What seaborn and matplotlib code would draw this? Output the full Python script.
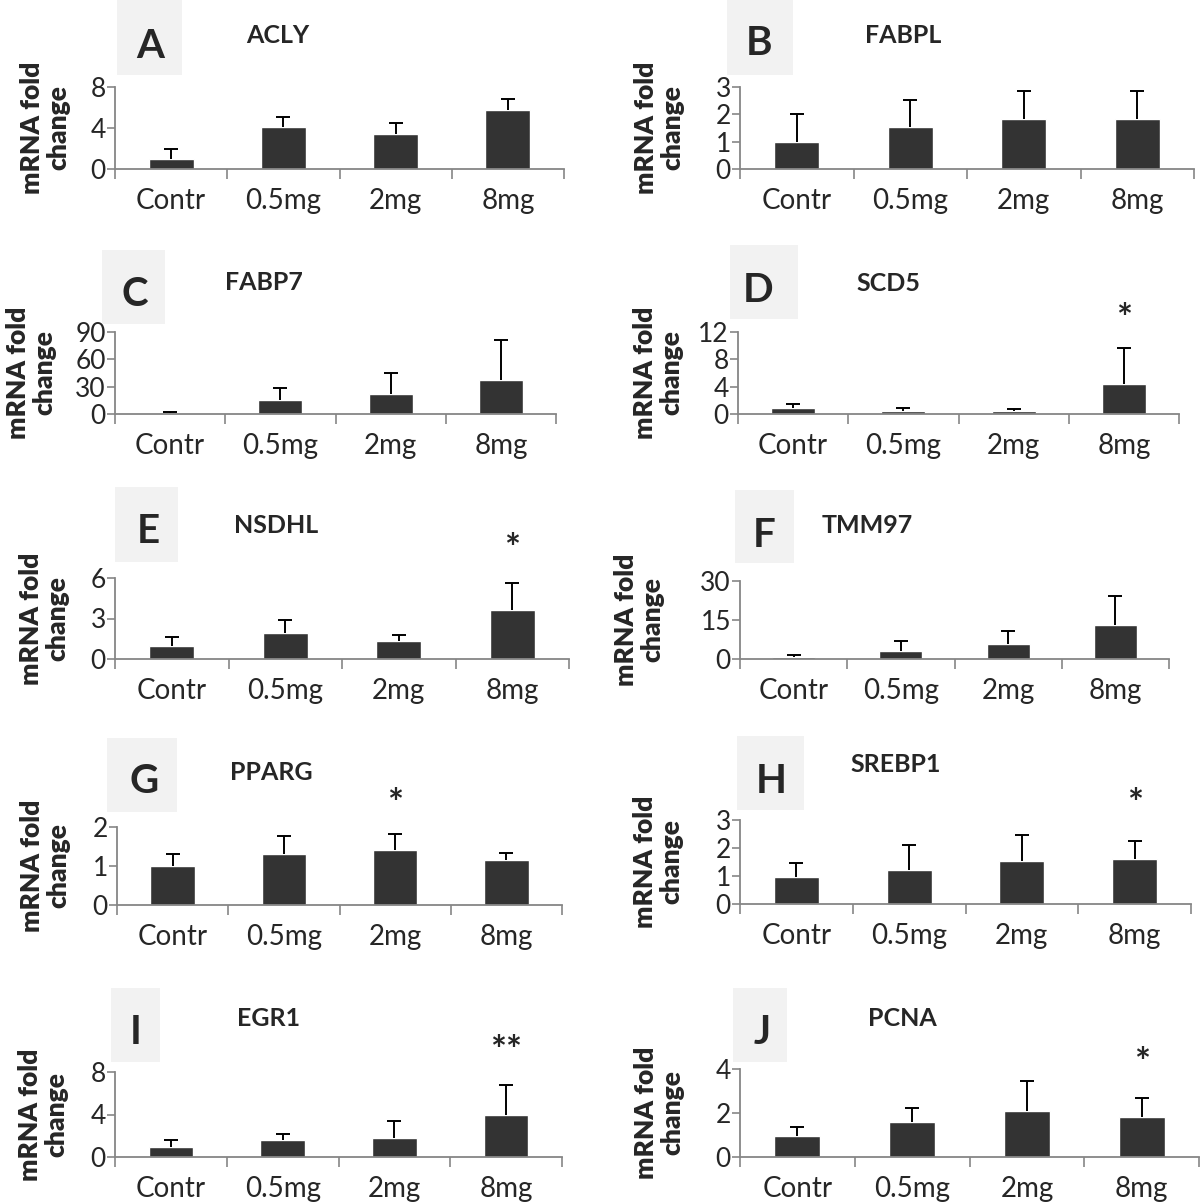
import numpy as np
import matplotlib
matplotlib.use('Agg')
import matplotlib.pyplot as plt
from matplotlib.patches import Rectangle
import seaborn as sns

doses = ['Contr', '0.5mg', '2mg', '8mg']
letters = ['A', 'B', 'C', 'D', 'E', 'F', 'G', 'H', 'I', 'J']
genes = ['ACLY', 'FABPL', 'FABP7', 'SCD5', 'NSDHL', 'TMM97', 'PPARG', 'SREBP1', 'EGR1', 'PCNA']

# mean fold change and upper error per gene
acly = [1.0, 4.1, 3.45, 5.8]
acly_err = [1.0, 1.0, 1.0, 1.05]
fabpl = [1.0, 1.54, 1.82, 1.82]
fabpl_err = [1.0, 1.0, 1.02, 1.02]
fabp7 = [1.0, 15.1, 22.5, 37.6]
fabp7_err = [1.2, 13.0, 23.0, 43.6]
scd5 = [0.93, 0.49, 0.39, 4.43]
scd5_err = [0.55, 0.44, 0.4, 5.2]
nsdhl = [0.96, 1.89, 1.3, 3.61]
nsdhl_err = [0.7, 1.0, 0.45, 2.0]
tmm97 = [0.65, 3.05, 5.7, 13.1]
tmm97_err = [1.0, 3.85, 5.0, 11.3]
pparg = [0.99, 1.32, 1.40, 1.16]
pparg_err = [0.33, 0.46, 0.41, 0.17]
srebp1 = [0.98, 1.22, 1.53, 1.61]
srebp1_err = [0.5, 0.9, 0.94, 0.63]
egr1 = [0.95, 1.58, 1.8, 3.96]
egr1_err = [0.63, 0.62, 1.55, 2.81]
pcna = [0.97, 1.57, 2.11, 1.83]
pcna_err = [0.4, 0.68, 1.34, 0.86]

values = [acly, fabpl, fabp7, scd5, nsdhl, tmm97, pparg, srebp1, egr1, pcna]
errors = [acly_err, fabpl_err, fabp7_err, scd5_err, nsdhl_err, tmm97_err,
          pparg_err, srebp1_err, egr1_err, pcna_err]
yticks = [[0, 4, 8], [0, 1, 2, 3], [0, 30, 60, 90], [0, 4, 8, 12], [0, 3, 6],
          [0, 15, 30], [0, 1, 2], [0, 1, 2, 3], [0, 4, 8], [0, 2, 4]]
# (category index, mark) or None
stars = [None, None, None, (3, '*'), (3, '*'), None, (2, '*'), (3, '*'), (3, '**'), (3, '*')]

# layout in image pixels (from top): axes x0, x1, ytop, ybot / ylabel x / box / letter / title / star y
W, H = 1200, 1204
layout = [
    dict(ax=(115, 564, 87, 169), ylab=45, box=(117, 182, 0, 75), let=(150, 58), tit=(246, 43), star=None),
    dict(ax=(740, 1194, 87, 169), ylab=659, box=(727, 793, 0, 75), let=(759, 55), tit=(865, 43), star=None),
    dict(ax=(115, 556, 332, 414), ylab=31, box=(102, 165, 250, 324), let=(135, 306), tit=(225, 290), star=None),
    dict(ax=(738, 1179, 332, 414), ylab=658, box=(730, 798, 245, 319), let=(758, 302), tit=(856, 291), star=312),
    dict(ax=(115, 569, 578, 659), ylab=44, box=(115, 178, 487, 562), let=(148, 543), tit=(234, 533), star=542),
    dict(ax=(740, 1169, 581, 659), ylab=639, box=(735, 794, 490, 563), let=(764, 547), tit=(822, 533), star=None),
    dict(ax=(117, 562, 827, 905), ylab=45, box=(107, 177, 738, 812), let=(144, 793), tit=(230, 780), star=797),
    dict(ax=(740, 1191, 820, 904), ylab=658, box=(737, 804, 736, 810), let=(771, 793), tit=(850, 772), star=797),
    dict(ax=(115, 562, 1072, 1157), ylab=43, box=(111, 160, 988, 1062), let=(136, 1044), tit=(237, 1026), star=1044),
    dict(ax=(740, 1199, 1069, 1157), ylab=659, box=(733, 787, 988, 1062), let=(762, 1044), tit=(868, 1026), star=1056),
]

sns.set_style('ticks')
plt.rcParams['font.family'] = ['Lato', 'DejaVu Sans']

fig = plt.figure(figsize=(12, 12.04), dpi=100)
axis_grey = '#868686'

for i in range(10):
    L = layout[i]
    x0, x1, yt, yb = L['ax']
    ax = fig.add_axes([x0 / W, 1 - yb / H, (x1 - x0) / W, (yb - yt) / H])
    ax.patch.set_alpha(0)
    sns.barplot(x=doses, y=values[i], color='#333333', saturation=1, width=0.4,
                errorbar=None, ax=ax)
    eb = ax.errorbar(range(4), values[i], yerr=[np.zeros(4), errors[i]], fmt='none',
                     ecolor='black', elinewidth=1.4, capsize=4.9, capthick=1.4)
    eb[1][0].set_visible(False)  # only the upper cap
    ax.set_xlim(-0.5, 3.5)
    ax.set_ylim(0, yticks[i][-1])
    ax.set_yticks(yticks[i])
    ax.set_xticks(range(4))
    ax.set_xticklabels(doses)
    ax.set_xticks(np.arange(-0.5, 4, 1), minor=True)
    ax.set_xlabel('')
    ax.set_ylabel('')
    ax.tick_params(axis='x', which='major', length=0, pad=14, labelsize=20)
    ax.tick_params(axis='x', which='minor', length=7, width=1.2, color=axis_grey, direction='out')
    ax.tick_params(axis='y', length=5.5, width=1.2, color=axis_grey, pad=1, labelsize=19)
    sns.despine(ax=ax)
    for s in ['left', 'bottom']:
        ax.spines[s].set_color(axis_grey)
        ax.spines[s].set_linewidth(1.3)

    # ylabel
    fig.text(L['ylab'] / W, 1 - (yt + yb) / 2 / H, 'mRNA fold\nchange', rotation=90,
             ha='center', va='center', multialignment='center',
             fontsize=19, fontweight='heavy', linespacing=1.1)
    # letter box
    bx0, bx1, by0, by1 = L['box']
    fig.patches.append(Rectangle((bx0 / W, 1 - by1 / H), (bx1 - bx0) / W, (by1 - by0) / H,
                                 transform=fig.transFigure, facecolor='#f2f2f2',
                                 edgecolor='none', zorder=0))
    fig.text(L['let'][0] / W, 1 - L['let'][1] / H, letters[i], ha='center', va='baseline',
             fontsize=29, fontweight='bold')
    fig.text(L['tit'][0] / W, 1 - L['tit'][1] / H, genes[i], ha='left', va='baseline',
             fontsize=18, fontweight='bold')
    if stars[i] is not None:
        idx, mark = stars[i]
        ax.annotate(mark, xy=(idx, H - L['star'] - 19), xycoords=('data', 'figure pixels'),
                    ha='center', va='baseline', fontsize=27, fontweight='bold',
                    annotation_clip=False)

fig.savefig('out.png', dpi=100)
